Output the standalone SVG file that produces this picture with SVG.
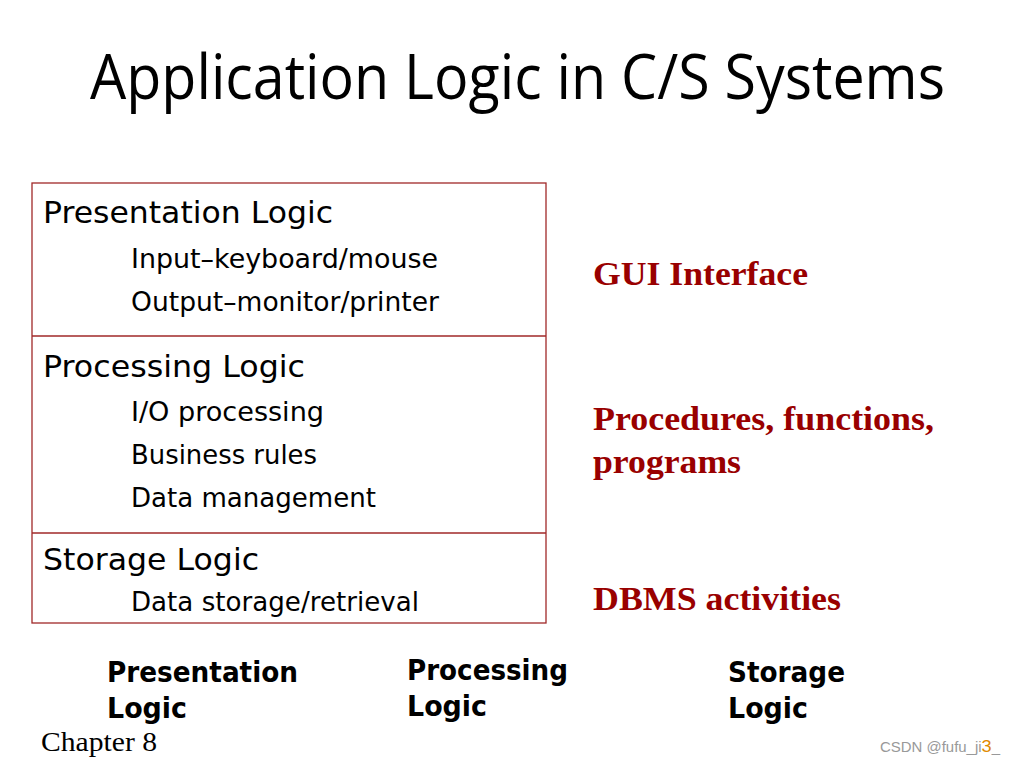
<svg xmlns="http://www.w3.org/2000/svg" width="1015" height="765" viewBox="0 0 1015 765">
<style>
.title{font-family:"Open Sans","Noto Sans",sans-serif;font-size:63px;fill:#000}
.h{font-family:"DejaVu Sans",Verdana,sans-serif;font-size:31px;fill:#000}
.s{font-family:"DejaVu Sans",Verdana,sans-serif;font-size:26.5px;fill:#000}
.r{font-family:"Liberation Serif","Times New Roman",serif;font-size:34px;font-weight:bold;fill:#990000}
.b{font-family:"DejaVu Sans Condensed","DejaVu Sans",sans-serif;font-size:28px;font-weight:bold;fill:#000}
.box{fill:#fff;stroke:#a02828;stroke-width:1.3}
.div{stroke:#a02828;stroke-width:1.3}
.ch{font-family:"Liberation Serif","Times New Roman",serif;font-size:28px;fill:#000}
.wm{font-family:"Liberation Sans",Arial,sans-serif;font-size:14px;fill:#999}
</style>
<rect width="1015" height="765" fill="#fff"/>
<text class="title" x="90" y="99" textLength="855" lengthAdjust="spacingAndGlyphs">Application Logic in C/S Systems</text>

<g id="layers">
<rect class="box" x="32" y="183" width="514" height="440"/>
</g>
<g id="connectors">
<line class="div" x1="32" y1="336" x2="546" y2="336"/>
<line class="div" x1="32" y1="533" x2="546" y2="533"/>
</g>

<g id="presentation">
<text class="h" x="43" y="223" textLength="290" lengthAdjust="spacingAndGlyphs">Presentation Logic</text>
<text class="s" x="131" y="268" textLength="307" lengthAdjust="spacingAndGlyphs">Input–keyboard/mouse</text>
<text class="s" x="131" y="311" textLength="308" lengthAdjust="spacingAndGlyphs">Output–monitor/printer</text>
</g>
<g id="processing">
<text class="h" x="43" y="377" textLength="262" lengthAdjust="spacingAndGlyphs">Processing Logic</text>
<text class="s" x="131" y="421" textLength="193" lengthAdjust="spacingAndGlyphs">I/O processing</text>
<text class="s" x="131" y="464" textLength="186" lengthAdjust="spacingAndGlyphs">Business rules</text>
<text class="s" x="131" y="507" textLength="245" lengthAdjust="spacingAndGlyphs">Data management</text>
</g>
<g id="storage">
<text class="h" x="43" y="570" textLength="216" lengthAdjust="spacingAndGlyphs">Storage Logic</text>
<text class="s" x="131" y="611" textLength="288" lengthAdjust="spacingAndGlyphs">Data storage/retrieval</text>
</g>

<g id="gui">
<text class="r" x="593" y="285" textLength="215" lengthAdjust="spacingAndGlyphs">GUI Interface</text>
</g>
<g id="procedures">
<text class="r" x="593" y="430" textLength="341" lengthAdjust="spacingAndGlyphs">Procedures, functions,</text>
<text class="r" x="593" y="473" textLength="148" lengthAdjust="spacingAndGlyphs">programs</text>
</g>
<g id="dbms">
<text class="r" x="593" y="610" textLength="248" lengthAdjust="spacingAndGlyphs">DBMS activities</text>
</g>

<g id="label-presentation">
<text class="b" x="107" y="682" textLength="191" lengthAdjust="spacingAndGlyphs">Presentation</text>
<text class="b" x="107" y="718" textLength="80" lengthAdjust="spacingAndGlyphs">Logic</text>
</g>
<g id="label-processing">
<text class="b" x="407" y="680" textLength="161" lengthAdjust="spacingAndGlyphs">Processing</text>
<text class="b" x="407" y="716" textLength="80" lengthAdjust="spacingAndGlyphs">Logic</text>
</g>
<g id="label-storage">
<text class="b" x="728" y="682" textLength="117" lengthAdjust="spacingAndGlyphs">Storage</text>
<text class="b" x="728" y="718" textLength="80" lengthAdjust="spacingAndGlyphs">Logic</text>
</g>

<text class="ch" x="41" y="751" textLength="116" lengthAdjust="spacingAndGlyphs">Chapter 8</text>
<text class="wm" x="880" y="752" textLength="120" lengthAdjust="spacingAndGlyphs">CSDN @fufu_ji<tspan fill="#e08a00" font-size="17">3</tspan>_</text>
</svg>
